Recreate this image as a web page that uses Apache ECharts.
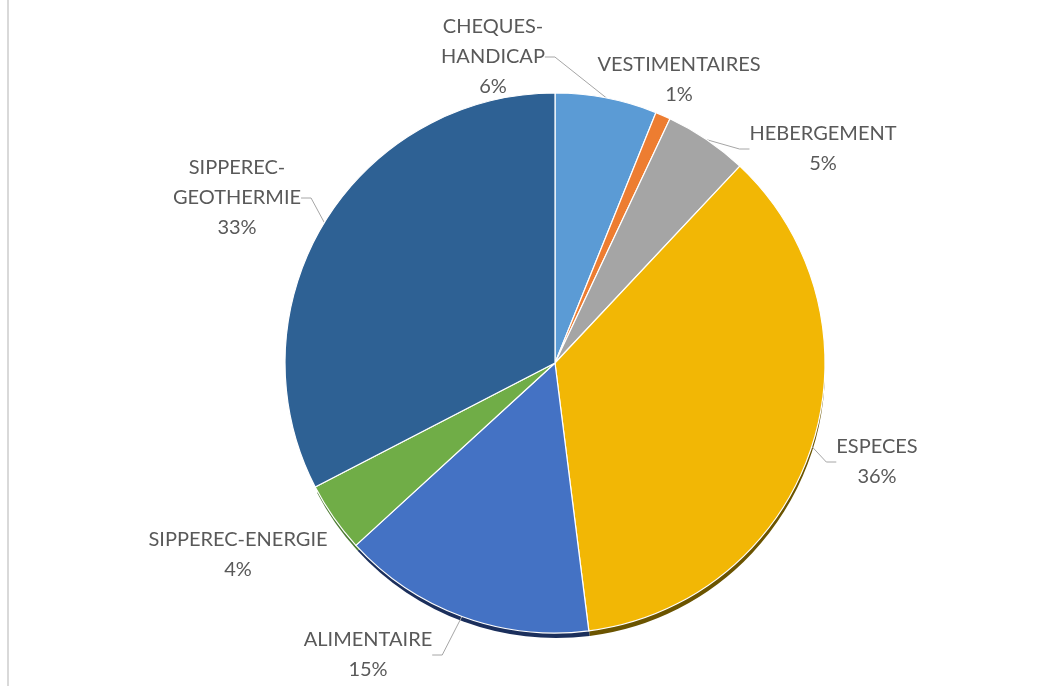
<!DOCTYPE html>
<html>
<head>
<meta charset="utf-8">
<script src="https://cdn.jsdelivr.net/npm/echarts@6/dist/echarts.min.js"></script>
<style>
html,body{margin:0;padding:0;background:#fff;}
#chart{width:1046px;height:686px;}
</style>
</head>
<body>
<div id="chart"></div>
<script>
// ---- data ----
var categories = ['CHEQUES-\nHANDICAP', 'VESTIMENTAIRES', 'HEBERGEMENT', 'ESPECES', 'ALIMENTAIRE', 'SIPPEREC-ENERGIE', 'SIPPEREC-\nGEOTHERMIE'];
var values = [6.1, 0.9, 5.0, 36.0, 15.2, 4.2, 32.6];

// ---- styling / layout (not data) ----
var colors = ['#5B9BD5', '#ED7D31', '#A5A5A5', '#F2B705', '#4472C4', '#70AD47', '#2E6194'];
var shadowColors = ['rgba(0,0,0,0)', 'rgba(0,0,0,0)', 'rgba(0,0,0,0)', '#6B5400', '#1B2F5C', '#4A7A30', 'rgba(0,0,0,0)'];
var showLeader = [true, false, true, true, true, false, true];
var labelCenters = [[493, 57], [679, 80], [823, 149], [877, 462], [368, 655], [238, 555], [237, 198]];

var chart = echarts.init(document.getElementById('chart'));
var dataItems = categories.map(function (c, i) {
  return {
    name: c,
    value: values[i],
    itemStyle: { color: colors[i] },
    labelLine: { show: showLeader[i] }
  };
});
var shadowItems = categories.map(function (c, i) {
  return { name: c, value: values[i], itemStyle: { color: shadowColors[i] } };
});

chart.setOption({
  backgroundColor: '#ffffff',
  animation: false,
  graphic: [{
    type: 'rect',
    shape: { x: 7, y: 0, width: 2, height: 686 },
    style: { fill: '#d9d9d9' },
    silent: true
  }],
  series: [{
    type: 'pie',
    name: 'shadow',
    silent: true,
    z: 1,
    center: [556, 369],
    radius: 269,
    startAngle: 90,
    clockwise: true,
    label: { show: false },
    labelLine: { show: false },
    itemStyle: { borderWidth: 0 },
    emphasis: { disabled: true },
    data: shadowItems
  }, {
    type: 'pie',
    z: 2,
    center: [555, 363],
    radius: 270,
    startAngle: 90,
    clockwise: true,
    avoidLabelOverlap: false,
    itemStyle: { borderColor: '#ffffff', borderWidth: 1.2 },
    label: {
      show: true,
      position: 'outside',
      fontFamily: 'Lato, "Open Sans", sans-serif',
      fontSize: 20,
      lineHeight: 30,
      color: '#595959',
      align: 'center',
      formatter: function (p) {
        return p.name + '\n' + Math.round(p.percent) + '%';
      }
    },
    labelLine: {
      show: true,
      length: 10,
      length2: 10,
      smooth: false,
      lineStyle: { color: '#A6A6A6', width: 1 }
    },
    labelLayout: function (params) {
      var c = labelCenters[params.dataIndex];
      return { x: c[0], y: c[1], align: 'center', verticalAlign: 'middle' };
    },
    data: dataItems
  }]
});
</script>
</body>
</html>
